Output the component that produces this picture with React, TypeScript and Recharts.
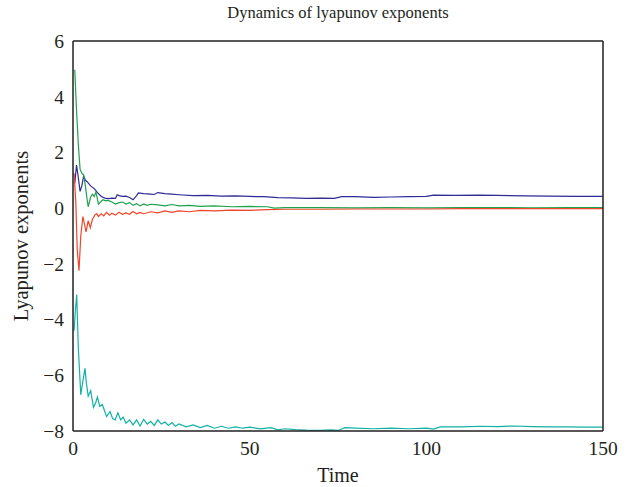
import React from "react";
import { LineChart, Line, XAxis, YAxis } from "recharts";

// Time samples and exponent values for each of the four exponents
const blueT = [0.5, 1, 1.5, 2, 2.5, 3, 3.5, 4, 5, 6, 7, 8, 9, 10, 11, 12, 12.5, 13, 14, 15, 16, 17, 18, 18.5, 20, 22, 23, 24, 26, 28, 30, 34, 38, 42, 46, 50, 54, 58, 62, 66, 70, 74, 76, 80, 85, 90, 95, 100, 102, 108, 115, 120, 128, 135, 142, 150];
const blueV = [0.9, 1.55, 1.1, 0.6, 0.8, 1.15, 1.0, 0.95, 0.8, 0.7, 0.55, 0.42, 0.36, 0.34, 0.36, 0.35, 0.48, 0.45, 0.42, 0.43, 0.38, 0.3, 0.45, 0.55, 0.52, 0.5, 0.49, 0.56, 0.52, 0.5, 0.48, 0.45, 0.46, 0.43, 0.44, 0.42, 0.41, 0.38, 0.37, 0.35, 0.36, 0.35, 0.41, 0.41, 0.39, 0.4, 0.41, 0.42, 0.47, 0.46, 0.47, 0.46, 0.44, 0.43, 0.42, 0.42];

const greenT = [0.5, 1, 1.5, 2, 2.5, 3, 3.5, 4, 4.3, 5, 5.5, 6, 6.5, 7.2, 8, 8.5, 9, 10, 11, 12, 13, 14, 15, 16, 17, 18, 19, 20, 21, 22, 24, 26, 28, 30, 33, 36, 40, 45, 50, 55, 57, 60, 70, 80, 90, 100, 110, 120, 130, 140, 150];
const greenV = [4.97, 3.5, 2.3, 1.4, 1.25, 1.2, 0.8, 0.3, 0.05, 0.4, 0.5, 0.42, 0.58, 0.14, 0.25, 0.3, 0.27, 0.28, 0.22, 0.15, 0.2, 0.22, 0.15, 0.2, 0.1, 0.16, 0.08, 0.15, 0.1, 0.14, 0.12, 0.08, 0.13, 0.08, 0.1, 0.06, 0.08, 0.05, 0.06, 0.05, 0.0, 0.02, 0.02, 0.01, 0.02, 0.01, 0.02, 0.02, 0.01, 0.02, 0.02];

const redT = [0.3, 0.8, 1.2, 1.7, 2.2, 2.8, 3.7, 4.3, 4.9, 5.5, 6.2, 6.7, 7.2, 8, 8.7, 9.5, 10.3, 11, 12, 13, 14, 15, 16, 17, 18, 19, 20, 22, 24, 26, 28, 30, 33, 36, 40, 45, 50, 55, 60, 70, 80, 90, 100, 110, 120, 130, 140, 150];
const redV = [1.25, 0.2, -1.5, -2.25, -1.0, -0.3, -0.85, -0.45, -0.7, -0.4, -0.25, -0.2, -0.3, -0.2, -0.28, -0.15, -0.25, -0.18, -0.25, -0.15, -0.22, -0.17, -0.22, -0.12, -0.2, -0.15, -0.2, -0.13, -0.17, -0.1, -0.15, -0.1, -0.13, -0.08, -0.1, -0.07, -0.08, -0.05, -0.04, -0.04, -0.03, -0.03, -0.03, -0.02, -0.02, -0.02, -0.02, -0.02];

const cyanT = [0.3, 0.6, 1.05, 1.5, 2.2, 2.8, 3.4, 3.8, 4.3, 5, 5.8, 6.4, 6.9, 7.6, 8.3, 9, 9.5, 10.5, 11.2, 11.9, 12.7, 13.5, 14.2, 15, 16, 17, 18, 19, 20, 21, 22, 23, 24, 25, 26, 27, 28, 29, 30, 32, 34, 36, 38, 40, 42, 44, 46, 48, 50, 53, 56, 58, 60, 63, 66, 70, 73, 75, 77, 80, 85, 90, 95, 100, 102, 104, 110, 115, 120, 125, 130, 135, 140, 145, 150];
const cyanV = [-4.4, -3.8, -3.1, -5.0, -6.7, -6.2, -5.75, -6.3, -6.75, -6.55, -7.15, -7.0, -6.78, -7.12, -7.05, -7.3, -7.48, -7.3, -7.55, -7.6, -7.35, -7.6, -7.5, -7.72, -7.6, -7.78, -7.6, -7.82, -7.58, -7.75, -7.65, -7.8, -7.6, -7.75, -7.68, -7.8, -7.7, -7.83, -7.75, -7.85, -7.78, -7.88, -7.8, -7.9, -7.83, -7.9, -7.85, -7.9, -7.86, -7.92, -7.88, -7.96, -7.92, -7.95, -7.97, -7.98, -7.96, -7.98, -7.88, -7.9, -7.92, -7.9, -7.92, -7.9, -7.93, -7.85, -7.85, -7.83, -7.84, -7.82, -7.84, -7.85, -7.85, -7.86, -7.86];

const xTicks = [0, 50, 100, 150];
const yTicks = [-8, -6, -4, -2, 0, 2, 4, 6];

const toRows = (ts: number[], vs: number[]) => ts.map((t, i) => ({ t, v: vs[i] }));

const series = [
  { name: "blue", color: "#2f2b96", data: toRows(blueT, blueV) },
  { name: "green", color: "#1ea24e", data: toRows(greenT, greenV) },
  { name: "red", color: "#f0452a", data: toRows(redT, redV) },
  { name: "cyan", color: "#12b1a6", data: toRows(cyanT, cyanV) },
];

const FONT = "'Liberation Serif', 'Times New Roman', serif";
const INK = "#231f20";
const fmt = (v: number) => (v < 0 ? `\u2212${Math.abs(v)}` : `${v}`);
const blank = () => "";
const frame = { stroke: INK, strokeWidth: 1.5 };
const tickInk = { stroke: INK, strokeWidth: 1.2 };

export default function App() {
  return (
    <div style={{ position: "absolute", left: 0, top: 0, width: 632, height: 487, background: "#fff", fontFamily: FONT }}>
      <div
        style={{
          position: "absolute",
          left: 73,
          width: 530,
          top: 2,
          textAlign: "center",
          fontSize: 16.5,
          color: INK,
          lineHeight: "22px",
        }}
      >
        Dynamics of lyapunov exponents
      </div>
      <LineChart width={632} height={487} margin={{ top: 41, right: 29, bottom: 0, left: 12 }}>
        {/* labelled axes: bottom and left */}
        <XAxis
          xAxisId="bottom"
          dataKey="t"
          type="number"
          domain={[0, 150]}
          ticks={xTicks}
          height={56}
          tickSize={0}
          tickMargin={10}
          axisLine={frame}
          tickLine={false}
          tick={{ fontSize: 19.5, fill: INK, fontFamily: FONT }}
          label={{ value: "Time", position: "insideBottom", offset: 5, fontSize: 20, fill: INK, fontFamily: FONT }}
        />
        <YAxis
          yAxisId="left"
          type="number"
          domain={[-8, 6]}
          ticks={yTicks}
          width={61}
          tickSize={0}
          tickMargin={9}
          tickFormatter={fmt}
          axisLine={frame}
          tickLine={false}
          tick={{ fontSize: 19.5, fill: INK, fontFamily: FONT }}
          label={{
            value: "Lyapunov exponents",
            angle: -90,
            position: "insideLeft",
            offset: 9,
            fontSize: 20.5,
            fill: INK,
            fontFamily: FONT,
            style: { textAnchor: "middle" },
          }}
        />

        {/* mirrored axes carry the inward tick marks and close the box */}
        <XAxis xAxisId="bottomIn" orientation="bottom" mirror type="number" domain={[0, 150]} ticks={xTicks}
          height={1} tickSize={5} tickFormatter={blank} axisLine={false} tickLine={tickInk} />
        <XAxis xAxisId="topIn" orientation="top" mirror type="number" domain={[0, 150]} ticks={xTicks}
          height={1} tickSize={5} tickFormatter={blank} axisLine={frame} tickLine={tickInk} />
        <YAxis yAxisId="leftIn" orientation="left" mirror type="number" domain={[-8, 6]} ticks={yTicks}
          width={1} tickSize={5} tickFormatter={blank} axisLine={false} tickLine={tickInk} />
        <YAxis yAxisId="rightIn" orientation="right" mirror type="number" domain={[-8, 6]} ticks={yTicks}
          width={1} tickSize={5} tickFormatter={blank} axisLine={frame} tickLine={tickInk} />

        {series.map((s) => (
          <Line
            key={s.name}
            xAxisId="bottom"
            yAxisId="left"
            data={s.data}
            dataKey="v"
            type="linear"
            stroke={s.color}
            strokeWidth={1.2}
            dot={false}
            isAnimationActive={false}
          />
        ))}
      </LineChart>
    </div>
  );
}
